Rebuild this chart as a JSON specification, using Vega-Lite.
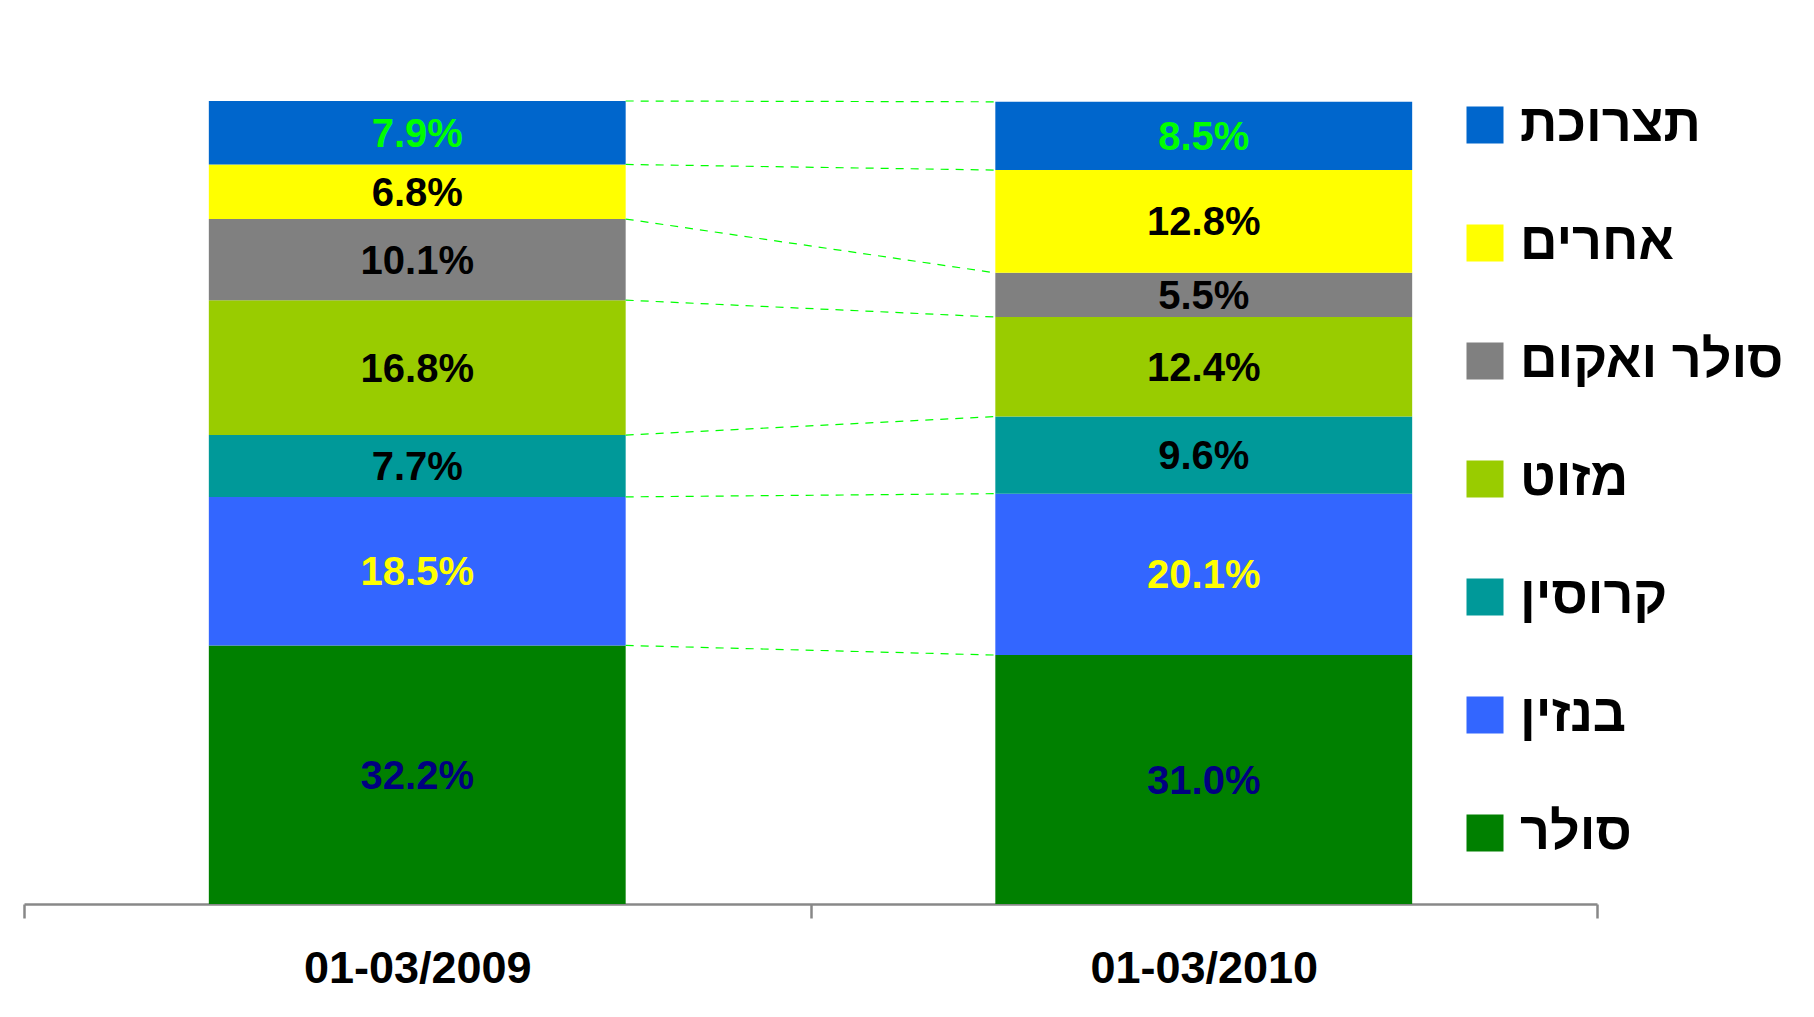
{
  "$schema": "https://vega.github.io/schema/vega-lite/v6.json",
  "width": 1573,
  "height": 803,
  "autosize": {"type": "none"},
  "padding": {"left": 24, "top": 101, "right": 217, "bottom": 113},
  "background": "white",
  "config": {
    "view": {"stroke": null},
    "font": "Liberation Sans",
    "axis": {"grid": false}
  },
  "data": {
    "values": [
      {"period": "01-03/2009", "fuel": "סולר", "rank": 1, "value": 0.322},
      {"period": "01-03/2009", "fuel": "בנזין", "rank": 2, "value": 0.185},
      {"period": "01-03/2009", "fuel": "קרוסין", "rank": 3, "value": 0.077},
      {"period": "01-03/2009", "fuel": "מזוט", "rank": 4, "value": 0.168},
      {"period": "01-03/2009", "fuel": "סולר ואקום", "rank": 5, "value": 0.101},
      {"period": "01-03/2009", "fuel": "אחרים", "rank": 6, "value": 0.068},
      {"period": "01-03/2009", "fuel": "תצרוכת", "rank": 7, "value": 0.079},
      {"period": "01-03/2010", "fuel": "סולר", "rank": 1, "value": 0.31},
      {"period": "01-03/2010", "fuel": "בנזין", "rank": 2, "value": 0.201},
      {"period": "01-03/2010", "fuel": "קרוסין", "rank": 3, "value": 0.096},
      {"period": "01-03/2010", "fuel": "מזוט", "rank": 4, "value": 0.124},
      {"period": "01-03/2010", "fuel": "סולר ואקום", "rank": 5, "value": 0.055},
      {"period": "01-03/2010", "fuel": "אחרים", "rank": 6, "value": 0.128},
      {"period": "01-03/2010", "fuel": "תצרוכת", "rank": 7, "value": 0.085}
    ]
  },
  "transform": [
    {"stack": "value", "groupby": ["period"], "sort": [{"field": "rank", "order": "ascending"}], "as": ["c0", "c1"]}
  ],
  "layer": [
    {
      "mark": {"type": "bar", "width": {"band": 0.53}},
      "encoding": {
        "x": {
          "field": "period", "type": "nominal", "sort": ["01-03/2009", "01-03/2010"],
          "scale": {"paddingInner": 0, "paddingOuter": 0},
          "axis": {
            "title": null, "labelAngle": 0, "tickBand": "extent",
            "domainColor": "#888888", "domainWidth": 2.5,
            "tickColor": "#888888", "tickWidth": 2.5, "tickSize": 14,
            "labelFont": "Liberation Sans", "labelFontWeight": "bold", "labelFontSize": 45,
            "labelColor": "#000000", "labelPadding": 28, "labelLimit": 0
          }
        },
        "y": {"field": "c1", "type": "quantitative", "scale": {"domain": [0, 1], "nice": false}, "axis": null},
        "y2": {"field": "c0"},
        "color": {
          "field": "fuel", "type": "nominal",
          "scale": {
            "domain": ["תצרוכת", "אחרים", "סולר ואקום", "מזוט", "קרוסין", "בנזין", "סולר"],
            "range": ["#0066CC", "#FFFF00", "#808080", "#99CC00", "#009999", "#3366FF", "#008000"]
          },
          "legend": {
            "title": null, "orient": "none", "legendX": 1435, "legendY": -2, "padding": 0,
            "symbolType": "square", "symbolSize": 1369, "symbolStrokeWidth": 0, "symbolOpacity": 1,
            "labelFont": "Liberation Sans", "labelFontWeight": "bold", "labelFontSize": 52,
            "labelColor": "#000000", "labelOffset": 9, "rowPadding": 66, "labelLimit": 400
          }
        }
      }
    },
    {
      "transform": [{"fold": ["c0", "c1"], "as": ["k", "v"]}],
      "mark": {"type": "text", "font": "Liberation Sans", "fontWeight": "bold", "fontSize": 40, "baseline": "middle", "align": "center", "dy": 2},
      "encoding": {
        "x": {"field": "period", "type": "nominal", "title": null},
        "y": {"aggregate": "mean", "field": "v", "type": "quantitative", "axis": null},
        "text": {"field": "value", "type": "quantitative", "format": ".1%"},
        "color": {
          "field": "fuel", "type": "nominal",
          "scale": {
            "domain": ["תצרוכת", "אחרים", "סולר ואקום", "מזוט", "קרוסין", "בנזין", "סולר"],
            "range": ["#00FF00", "#000000", "#000000", "#000000", "#000000", "#FFFF00", "#000080"]
          },
          "legend": null
        }
      }
    },
    {
      "transform": [{"pivot": "period", "value": "c1", "groupby": ["fuel"]}],
      "mark": {"type": "rule", "color": "#00FF00", "strokeDash": [8, 7], "strokeWidth": 1.2},
      "encoding": {
        "x": {"datum": "01-03/2009", "type": "nominal", "bandPosition": 0.765, "title": null},
        "x2": {"datum": "01-03/2010", "bandPosition": 0.235},
        "y": {"field": "01-03/2009", "type": "quantitative", "axis": null},
        "y2": {"field": "01-03/2010"}
      }
    }
  ],
  "resolve": {"scale": {"color": "independent"}}
}
